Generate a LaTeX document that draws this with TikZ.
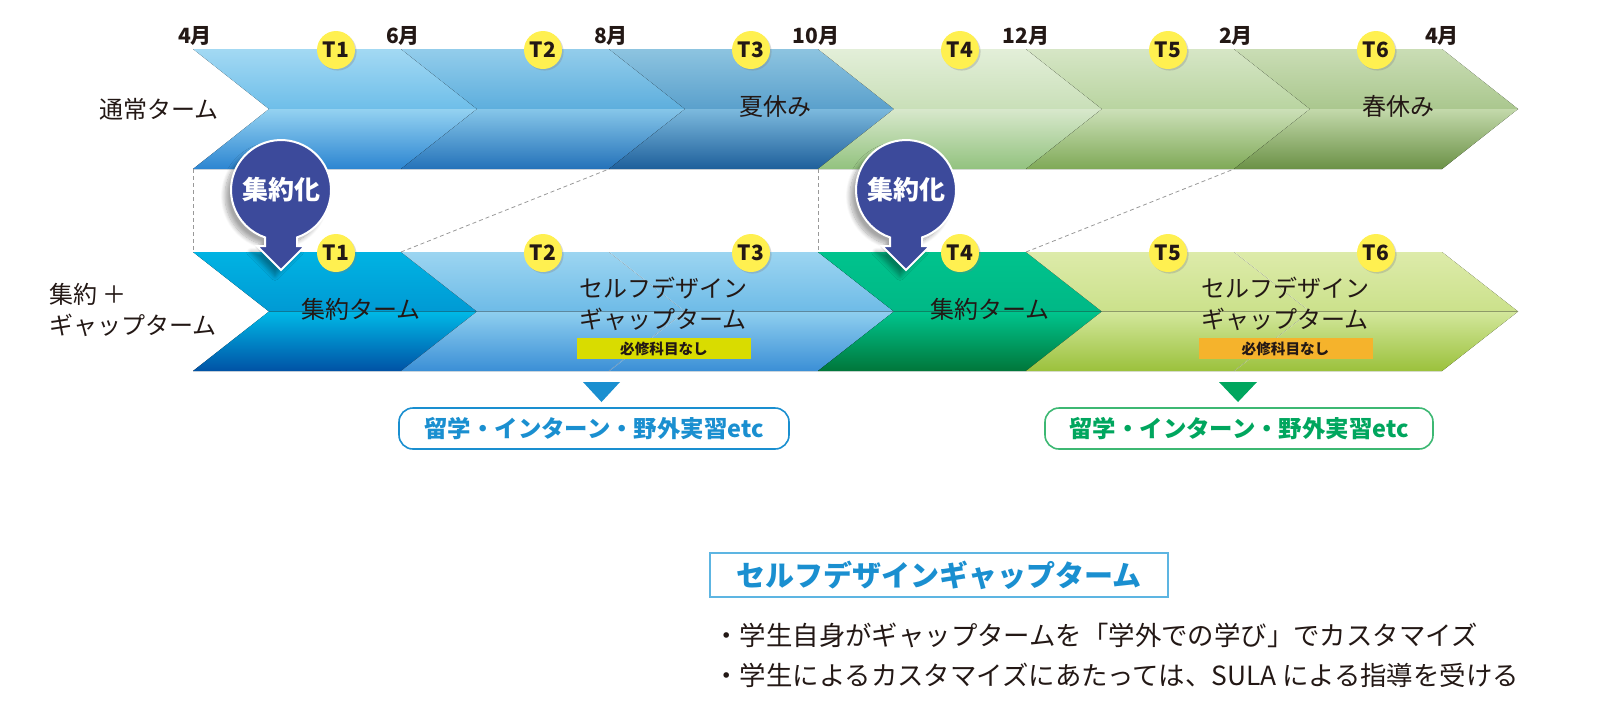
\documentclass[tikz,border=0pt]{standalone}
\usepackage{fontspec}
\setmainfont{Noto Sans CJK JP}
\usetikzlibrary{shadows,shadows.blur}
\definecolor{txt}{HTML}{231815}
\definecolor{tyel}{HTML}{FFF050}
\definecolor{pinb}{HTML}{3C4A9B}
\definecolor{dblue}{HTML}{1A8FD0}
\definecolor{dgreen}{HTML}{00A65E}
\definecolor{lgreen}{HTML}{3DB873}
\definecolor{yg}{HTML}{D9DC00}
\definecolor{org}{HTML}{F5B32C}
\definecolor{boxb}{HTML}{5DB5E2}
\newcommand{\seg}[8]{%
 \definecolor{sa}{HTML}{#5}\definecolor{sb}{HTML}{#6}\definecolor{sc}{HTML}{#7}\definecolor{sd}{HTML}{#8}%
 \pgfmathsetmacro\segmid{(#3+#4)/2}%
 \fill[top color=sa,bottom color=sb] (#1,#3) -- (#2,#3) -- (#2+76,\segmid) -- (#1+76,\segmid) -- cycle;
 \fill[top color=sc,bottom color=sd] (#1+76,\segmid) -- (#2+76,\segmid) -- (#2,#4) -- (#1,#4) -- cycle;
}
\newcommand{\pinmark}[3]{%
 \path[pinfill] (#1+16,#2+47.4) arc[start angle=71.35,end angle=-251.35,radius=50]
   -- (#1-16,#2+56) -- (#1-24,#2+56) -- (#1,#2+80) -- (#1+24,#2+56) -- (#1+16,#2+56) -- cycle;
 \node[pintext] (#3) at (#1,#2) {集約化};
}
\begin{document}
\begin{tikzpicture}[x=0.5pt,y=-0.5pt,
  mon/.style={font=\fontsize{10.5}{12}\selectfont\bfseries, text=txt, inner sep=0},
  tc/.style={circle, fill=tyel, minimum size=19pt, inner sep=0, font=\fontsize{10.5}{11}\selectfont\bfseries, text=txt, drop shadow={opacity=0.3, shadow xshift=0.8pt, shadow yshift=-0.8pt}},
  lbl/.style={font=\fontsize{12}{15.5}\selectfont, text=txt, inner sep=0, align=center},
  pinfill/.style={fill=pinb, draw=white, line width=1pt, blur shadow={shadow xshift=-3pt, shadow yshift=-3pt, shadow blur steps=10, shadow opacity=35}},
  pintext/.style={font=\fontsize{13}{15}\selectfont\bfseries, text=white, inner sep=0},
  guide/.style={draw=gray!80, line width=0.4pt, dash pattern=on 2pt off 1.5pt},
  mustbox/.style={minimum width=87pt, minimum height=10.5pt, inner sep=0, font=\fontsize{7.3}{8}\selectfont\bfseries, text=txt},
  ctabox/.style={draw, line width=0.8pt, rounded corners=7pt, fill=white, minimum height=20.5pt, inner sep=0, font=\fontsize{11.7}{13}\selectfont\bfseries},
  faint/.style={draw=white, draw opacity=0.35, line width=0.4pt}
]
\useasboundingbox (0,0) rectangle (1600,720);
% top row
\seg{193}{401}{49}{169}{A3D9F3}{6EBEE9}{94D2F1}{2C85D1}
\seg{401}{609}{49}{169}{93CDEB}{5DAEDD}{86C6E9}{2472B9}
\seg{609}{818}{49}{169}{8DC4E0}{5AA0CC}{7CB9DD}{1E5F9B}
\seg{818}{1026}{49}{169}{E3EFD9}{C9DFB8}{D8E8CC}{92C27E}
\seg{1026}{1234}{49}{169}{D6E6C6}{B9D4A0}{CCE0B8}{7FA957}
\seg{1234}{1442}{49}{169}{CADDB5}{AAC78E}{C3D9AB}{6B9146}
% bottom row
\seg{193}{401}{252}{371}{00B3E3}{009AD4}{00B9E7}{0052A5}
\seg{401}{609}{252}{371}{9CD5F1}{6EBBE7}{8FCFEF}{3B8FD6}
\seg{609}{818}{252}{371}{9CD5F1}{6EBBE7}{8FCFEF}{3B8FD6}
\seg{818}{1026}{252}{371}{00C38D}{00B886}{00C58E}{00763A}
\seg{1026}{1234}{252}{371}{DDEBAA}{CBE18B}{D3E79C}{9BC13C}
\seg{1234}{1442}{252}{371}{DDEBAA}{CBE18B}{D3E79C}{9BC13C}
\draw[faint] (609,252) -- (685,311.5) -- (609,371);
\draw[faint] (1234,252) -- (1310,311.5) -- (1234,371);

% dashed guide lines
\coordinate (ta) at (193,169); \coordinate (ba) at (193,252);
\coordinate (tb) at (818,169); \coordinate (bb) at (818,252);
\coordinate (tc8) at (609,169); \coordinate (bc8) at (401,252);
\coordinate (tc2) at (1234,169); \coordinate (bc2) at (1026,252);
\draw[guide] (ta) -- (ba);
\draw[guide] (tb) -- (bb);
\draw[guide] (bc8) -- (tc8);
\draw[guide] (bc2) -- (tc2);

% month labels
\node[mon] (m1) at (195,36) {4月};
\node[mon] (m2) at (403,36) {6月};
\node[mon] (m3) at (611,36) {8月};
\node[mon] (m4) at (816,36) {10月};
\node[mon] (m5) at (1026,36) {12月};
\node[mon] (m6) at (1236,36) {2月};
\node[mon] (m7) at (1442,36) {4月};

% row labels
\node[lbl, anchor=east] (rl1) at (219,109) {通常ターム};
\node[lbl, anchor=west, align=left] (rl2) at (49,310) {集約 ＋\\ギャップターム};

% texts inside chevrons
\node[lbl] (s1) at (775,106) {夏休み};
\node[lbl] (s2) at (1398,106) {春休み};
\node[lbl] (c1) at (361,309) {集約ターム};
\node[lbl] (c2) at (990,309) {集約ターム};
\node[lbl] (g1) at (663,304) {セルフデザイン\\ギャップターム};
\node[lbl] (g2) at (1285,304) {セルフデザイン\\ギャップターム};
\node[mustbox, fill=yg] (n1) at (664,348.5) {必修科目なし};
\node[mustbox, fill=org] (n2) at (1285.5,348.5) {必修科目なし};

% pins
\pinmark{281}{190}{pin1}
\pinmark{906}{190}{pin2}

% term circles
\node[tc] (t1) at (336,50) {T1};
\node[tc] (t2) at (543,50) {T2};
\node[tc] (t3) at (751,50) {T3};
\node[tc] (t4) at (960,50) {T4};
\node[tc] (t5) at (1168,50) {T5};
\node[tc] (t6) at (1376,50) {T6};
\node[tc] (u1) at (336,253) {T1};
\node[tc] (u2) at (543,253) {T2};
\node[tc] (u3) at (751,253) {T3};
\node[tc] (u4) at (960,253) {T4};
\node[tc] (u5) at (1168,253) {T5};
\node[tc] (u6) at (1376,253) {T6};

% triangles and activity boxes
\fill[dblue] (583,382) -- (620,382) -- (601.5,402) -- cycle;
\fill[dgreen] (1219,382) -- (1257,382) -- (1238,402) -- cycle;
\node[ctabox, draw=dblue, text=dblue, minimum width=195pt] (a1) at (594,428.5) {留学・インターン・野外実習etc};
\node[ctabox, draw=lgreen, text=dgreen, minimum width=194pt] (a2) at (1239,428.5) {留学・インターン・野外実習etc};

% explanation
\node[draw=boxb, line width=0.6pt, minimum width=229pt, minimum height=22pt, inner sep=0, font=\fontsize{14.5}{16}\selectfont\bfseries, text=dblue] (hd) at (939,575) {セルフデザインギャップターム};
\node[anchor=west, inner sep=0, font=\fontsize{13.2}{15}\selectfont, text=txt] (b1) at (713,635) {・学生自身がギャップタームを「学外での学び」でカスタマイズ};
\node[anchor=west, inner sep=0, font=\fontsize{13.2}{15}\selectfont, text=txt] (b2) at (713,675) {・学生によるカスタマイズにあたっては、SULA\hspace{0.2em}による指導を受ける};
\end{tikzpicture}
\end{document}
